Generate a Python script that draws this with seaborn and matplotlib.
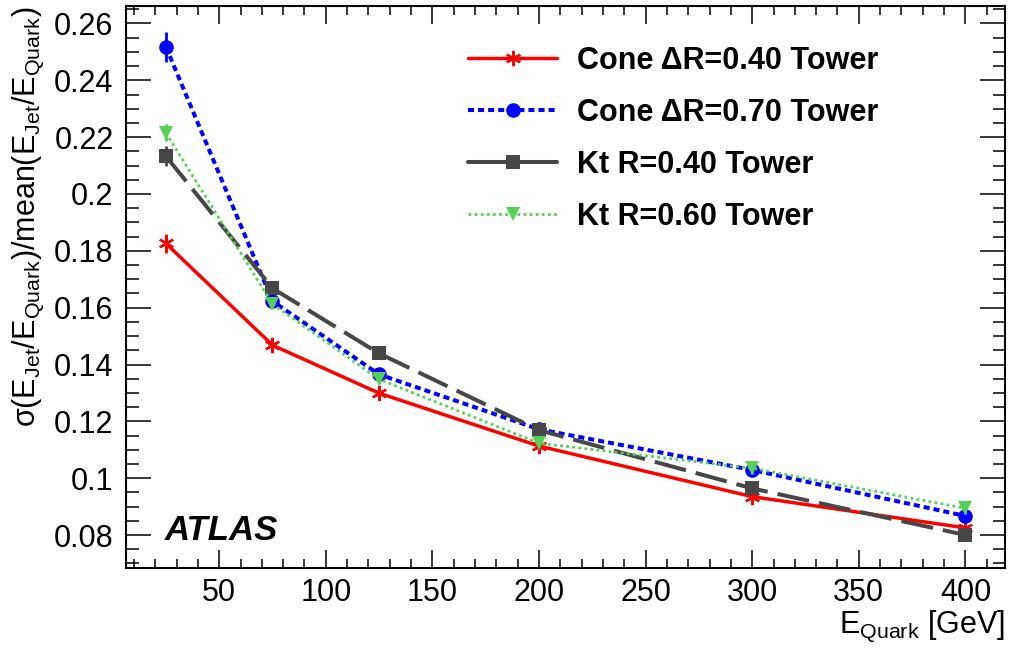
import matplotlib
matplotlib.use('Agg')
import numpy as np
import pandas as pd
import matplotlib.pyplot as plt
from matplotlib.ticker import MultipleLocator, FormatStrFormatter
import seaborn as sns

# data
e_quark = [25, 75, 125, 200, 300, 400]

cone04 = [0.1826, 0.1468, 0.1299, 0.1113, 0.0935, 0.0825]
cone04_err = [0.0033, 0.0015, 0.0015, 0.0013, 0.0018, 0.0015]

cone07 = [0.2518, 0.1623, 0.1365, 0.1172, 0.1029, 0.0867]
cone07_err = [0.0053, 0.0020, 0.0020, 0.0015, 0.0020, 0.0020]

kt04 = [0.2133, 0.1668, 0.1439, 0.1169, 0.0964, 0.0800]
kt04_err = [0.0035, 0.0015, 0.0015, 0.0015, 0.0020, 0.0020]

kt06 = [0.2215, 0.1613, 0.1348, 0.1123, 0.1035, 0.0894]
kt06_err = [0.0030, 0.0015, 0.0015, 0.0015, 0.0020, 0.0020]

labels = ['Cone \u0394R=0.40 Tower', 'Cone \u0394R=0.70 Tower',
          'Kt R=0.40 Tower', 'Kt R=0.60 Tower']

rows = []
for lab, vals, errs in zip(labels, [cone04, cone07, kt04, kt06],
                           [cone04_err, cone07_err, kt04_err, kt06_err]):
    for x, y, e in zip(e_quark, vals, errs):
        rows.append({'series': lab, 'E': x, 'res': y, 'err': e})
df = pd.DataFrame(rows)

styles = {
    labels[0]: dict(color='#ff0000', marker=(6, 2, 0), ms=11, mew=1.6, lw=2.5, ls='-'),
    labels[1]: dict(color='#0000ff', marker='o', ms=10.5, mew=0, lw=2.9, ls=(0, (1.5, 1.0))),
    labels[2]: dict(color='#474747', marker='s', ms=10, mew=0, lw=2.9, ls=(0, (8, 2.5))),
    labels[3]: dict(color='#55d155', marker='v', ms=10, mew=0, lw=2.0, ls=(0, (1.0, 1.2))),
}

sns.set_theme(style='ticks')
plt.rcParams['font.family'] = ['Liberation Sans', 'DejaVu Sans']
plt.rcParams['mathtext.fontset'] = 'custom'
plt.rcParams['mathtext.rm'] = 'Liberation Sans'
plt.rcParams['mathtext.it'] = 'Liberation Sans:italic'
plt.rcParams['mathtext.bf'] = 'Liberation Sans:bold'
plt.rcParams['text.color'] = 'black'
plt.rcParams['axes.labelcolor'] = 'black'
plt.rcParams['xtick.color'] = 'black'
plt.rcParams['ytick.color'] = 'black'

fig = plt.figure(figsize=(10.09, 6.48), dpi=100)
ax = fig.add_axes([0.1249, 0.1235, 0.871, 0.867])

for lab in labels:
    st = styles[lab]
    sub = df[df['series'] == lab]
    ax.errorbar(sub['E'], sub['res'], yerr=sub['err'], fmt='none',
                ecolor=st['color'], elinewidth=2, capsize=0)
    sns.lineplot(data=sub, x='E', y='res', ax=ax, label=lab, errorbar=None,
                 color=st['color'], marker=st['marker'], markersize=st['ms'],
                 markeredgewidth=st['mew'], markeredgecolor=st['color'],
                 linewidth=st['lw'], linestyle=st['ls'])

ax.set_xlim(6.3, 418.5)
ax.set_ylim(0.0684, 0.2661)
ax.xaxis.set_major_locator(MultipleLocator(50))
ax.xaxis.set_minor_locator(MultipleLocator(10))
ax.yaxis.set_major_locator(MultipleLocator(0.02))
ax.yaxis.set_minor_locator(MultipleLocator(0.005))
ax.yaxis.set_major_formatter(FormatStrFormatter('%g'))

ax.tick_params(which='both', direction='in', top=True, right=True,
               width=1.1, color='black', labelcolor='black', labelsize=22)
ax.tick_params(axis='y', which='major', length=18, pad=9)
ax.tick_params(axis='y', which='minor', length=9)
ax.tick_params(axis='x', which='major', length=13, pad=7)
ax.tick_params(axis='x', which='minor', length=6.5)
for sp in ax.spines.values():
    sp.set_linewidth(1.5)
    sp.set_color('black')

ax.set_xlabel(r'E$_{\mathrm{Quark}}$ [GeV]', loc='right', fontsize=22, labelpad=0)
ax.set_ylabel('\u03c3(E$_{\\mathrm{Jet}}$/E$_{\\mathrm{Quark}}$)/mean(E$_{\\mathrm{Jet}}$/E$_{\\mathrm{Quark}}$)',
              loc='top', fontsize=22, labelpad=6)

ax.text(0.044, 0.05, 'ATLAS', transform=ax.transAxes, fontsize=25,
        fontweight='bold', fontstyle='italic')

leg = ax.legend(loc='upper left', bbox_to_anchor=(0.449, 0.953),
                bbox_transform=fig.transFigure, frameon=False, borderpad=0,
                handlelength=2.9, handletextpad=0.65, labelspacing=0.72,
                numpoints=1, prop={'family': 'Liberation Sans', 'weight': 'bold', 'size': 22})
leg.get_lines()[2].set_linestyle('-')

fig.savefig('out.png', dpi=100)
